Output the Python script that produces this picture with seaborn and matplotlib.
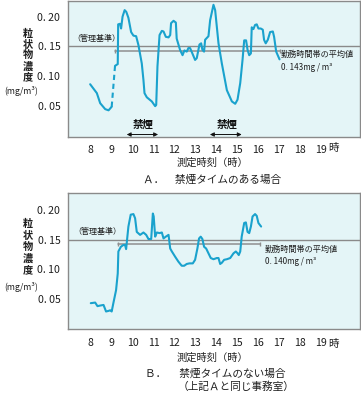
import matplotlib
matplotlib.use("Agg")
import matplotlib.pyplot as plt
import pandas as pd
import seaborn as sns

# ---------------- data ----------------
hour_ticks = [8, 9, 10, 11, 12, 13, 14, 15, 16, 17, 18, 19]
y_ticks = [0.05, 0.10, 0.15, 0.20]
y_tick_labels = ["0. 05", "0. 10", "0. 15", "0. 20"]
standard = 0.15

# Panel A: with no-smoking time
a_pre_x = [7.97, 8.29, 8.45, 8.69, 8.85, 9.00]
a_pre_y = [0.086, 0.071, 0.054, 0.044, 0.042, 0.048]
a_gap_x = [9.00, 9.16]
a_gap_y = [0.048, 0.117]
a_x = [9.16, 9.29, 9.31, 9.40, 9.45, 9.52, 9.62, 9.70, 9.80, 9.93, 10.04, 10.17,
       10.28, 10.44, 10.52, 10.57, 10.68, 10.92, 11.08, 11.13, 11.19, 11.29, 11.40,
       11.48, 11.59, 11.72, 11.80, 11.84, 11.96, 12.07, 12.11, 12.27, 12.39, 12.48,
       12.59, 12.67, 12.75, 12.86, 12.99, 13.07, 13.20, 13.28, 13.34, 13.42, 13.47,
       13.63, 13.71, 13.87, 13.95, 14.11, 14.27, 14.51, 14.75, 14.91, 15.02, 15.15,
       15.26, 15.34, 15.43, 15.50, 15.58, 15.66, 15.70, 15.78, 15.86, 15.94, 16.02,
       16.13, 16.23, 16.29, 16.37, 16.47, 16.58, 16.71, 16.77, 16.87, 17.03]
a_y = [0.117, 0.120, 0.187, 0.188, 0.180, 0.200, 0.211, 0.208, 0.198, 0.174, 0.168, 0.167,
       0.152, 0.121, 0.093, 0.071, 0.064, 0.057, 0.049, 0.051, 0.116, 0.169, 0.176,
       0.175, 0.166, 0.165, 0.169, 0.189, 0.193, 0.190, 0.163, 0.144, 0.135, 0.143,
       0.141, 0.147, 0.147, 0.138, 0.127, 0.130, 0.153, 0.155, 0.144, 0.141, 0.161,
       0.167, 0.194, 0.220, 0.211, 0.155, 0.121, 0.076, 0.057, 0.053, 0.060, 0.088,
       0.127, 0.160, 0.160, 0.144, 0.135, 0.138, 0.182, 0.179, 0.186, 0.187, 0.180,
       0.180, 0.178, 0.161, 0.155, 0.161, 0.174, 0.175, 0.166, 0.141, 0.128]
a_avg = 0.142
a_avg_span = [9.16, 17.05]
a_avg_label = "0. 143mg / m³"
nosmoke_spans = [[9.72, 11.22], [13.70, 15.22]]

# Panel B: without no-smoking time
b_x = [8.00, 8.21, 8.32, 8.45, 8.61, 8.73, 8.85, 8.93, 9.00, 9.08, 9.21, 9.29, 9.32,
       9.44, 9.56, 9.64, 9.69, 9.80, 9.91, 10.04, 10.12, 10.20, 10.36, 10.52, 10.65,
       10.76, 10.89, 10.97, 11.01, 11.08, 11.16, 11.29, 11.40, 11.48, 11.59, 11.72,
       11.80, 11.88, 12.04, 12.19, 12.35, 12.47, 12.59, 12.72, 12.88, 12.99, 13.10,
       13.18, 13.26, 13.34, 13.42, 13.52, 13.63, 13.74, 13.87, 14.03, 14.11, 14.19,
       14.27, 14.38, 14.51, 14.67, 14.83, 14.94, 15.02, 15.08, 15.15, 15.22, 15.34,
       15.42, 15.50, 15.58, 15.66, 15.74, 15.86, 15.94, 16.02, 16.15]
b_y = [0.043, 0.044, 0.038, 0.039, 0.040, 0.029, 0.030, 0.031, 0.029, 0.043, 0.065, 0.093, 0.130,
       0.138, 0.141, 0.141, 0.134, 0.172, 0.192, 0.193, 0.186, 0.163, 0.158, 0.162, 0.158,
       0.151, 0.151, 0.194, 0.189, 0.155, 0.162, 0.161, 0.162, 0.152, 0.155, 0.158,
       0.135, 0.130, 0.121, 0.113, 0.106, 0.106, 0.109, 0.110, 0.110, 0.116, 0.135,
       0.152, 0.155, 0.151, 0.138, 0.135, 0.127, 0.119, 0.117, 0.119, 0.119, 0.109,
       0.111, 0.116, 0.117, 0.119, 0.127, 0.130, 0.127, 0.124, 0.130, 0.155, 0.178,
       0.179, 0.163, 0.161, 0.172, 0.189, 0.193, 0.190, 0.178, 0.172]
b_avg = 0.142
b_avg_span = [9.28, 16.10]
b_avg_label = "0. 140mg / m³"

# ---------------- style ----------------
sns.set_style("white")
plt.rcParams["font.family"] = ["Noto Sans CJK JP", "DejaVu Sans"]

W, H = 361, 394
fig = plt.figure(figsize=(W / 100, H / 100), dpi=100)
fig.patch.set_facecolor("white")

BG = "#e4f5f7"
LINE = "#1aa2cd"
GRAY = "#8a8a8a"
AVG = "#8f8f8f"
TXT = "#1e1e1e"


def fx(px):
    return px / W


def fy(py):
    return 1 - py / H


def make_axes(top, bottom, ylim):
    ax = fig.add_axes([fx(68), fy(bottom), fx(360) - fx(68), fy(top) - fy(bottom)])
    ax.set_facecolor(BG)
    ax.set_xlim(6.91, 20.88)
    ax.set_ylim(*ylim)
    ax.set_xticks(hour_ticks)
    ax.set_xticklabels([str(h) for h in hour_ticks])
    ax.set_yticks(y_ticks)
    ax.set_yticklabels(y_tick_labels)
    ax.tick_params(axis="both", labelsize=7.6, colors=TXT, length=3, width=0.8,
                   direction="out", pad=2.5)
    ax.tick_params(axis="x", pad=3.5, length=2.5)
    for s in ax.spines.values():
        s.set_color(GRAY)
        s.set_linewidth(1.0)
    ax.set_xlabel("")
    ax.set_ylabel("")
    return ax


# ---------- Panel A ----------
axA = make_axes(1, 137, (-0.003, 0.2264))
axA.axhline(standard, color=GRAY, lw=1.0, zorder=1)
axA.plot(a_avg_span, [a_avg, a_avg], color=AVG, lw=1.1, zorder=1)
axA.plot(a_avg_span, [a_avg, a_avg], ls="none", marker="|", ms=3, color=AVG, zorder=1)
sns.lineplot(data=pd.DataFrame({"x": a_pre_x, "y": a_pre_y}), x="x", y="y",
             ax=axA, color=LINE, lw=1.5, sort=False, estimator=None)
sns.lineplot(data=pd.DataFrame({"x": a_gap_x, "y": a_gap_y}), x="x", y="y",
             ax=axA, color=LINE, lw=1.5, sort=False, estimator=None, dashes=False)
axA.lines[-1].set_linestyle((0, (2.5, 1.8)))
sns.lineplot(data=pd.DataFrame({"x": a_x, "y": a_y}), x="x", y="y",
             ax=axA, color=LINE, lw=1.5, sort=False, estimator=None)
axA.set_xlabel("")
axA.set_ylabel("")
for x0, x1 in nosmoke_spans:
    axA.annotate("", xy=(x0, 0.0012), xytext=(x1, 0.0012),
                 arrowprops=dict(arrowstyle="<|-|>", color="#111111", lw=0.7,
                                 mutation_scale=6, shrinkA=0, shrinkB=0))
    axA.text((x0 + x1) / 2 + 0.05, 0.0175, "禁煙", fontsize=7.5, ha="center",
             va="center", color="#111111", fontweight="bold")

fig.text(fx(72), fy(38), "（管理基準）", fontsize=5.8, ha="left", va="center", color=TXT)
fig.text(fx(281), fy(54), "勤務時間帯の平均値", fontsize=5.9, ha="left", va="center", color=TXT)
fig.text(fx(281), fy(67), a_avg_label, fontsize=5.8, ha="left", va="center", color=TXT)
fig.text(fx(333), fy(148), "時", fontsize=7.6, ha="center", va="center", color=TXT)
fig.text(fx(28), fy(55.5), "粒\n状\n物\n濃\n度", fontsize=7.3, ha="center", va="center",
         linespacing=1.1, color=TXT, fontweight="bold")
fig.text(fx(21), fy(91), "(mg/m³)", fontsize=6.3, ha="center", va="center", color=TXT)
fig.text(fx(212), fy(163), "測定時刻（時）", fontsize=7.4, ha="center", va="center", color=TXT)
fig.text(fx(212), fy(180), "Ａ．　禁煙タイムのある場合", fontsize=7.7, ha="center",
         va="center", color=TXT)

# ---------- Panel B ----------
axB = make_axes(193.3, 329.3, (-0.001, 0.228))
axB.axhline(standard, color=GRAY, lw=1.0, zorder=1)
axB.plot(b_avg_span, [b_avg, b_avg], color=AVG, lw=1.1, zorder=1)
axB.plot(b_avg_span, [b_avg, b_avg], ls="none", marker="|", ms=3, color=AVG, zorder=1)
sns.lineplot(data=pd.DataFrame({"x": b_x, "y": b_y}), x="x", y="y",
             ax=axB, color=LINE, lw=1.5, sort=False, estimator=None)
axB.set_xlabel("")
axB.set_ylabel("")

fig.text(fx(73), fy(231), "（管理基準）", fontsize=5.8, ha="left", va="center", color=TXT)
fig.text(fx(265), fy(249), "勤務時間帯の平均値", fontsize=5.9, ha="left", va="center", color=TXT)
fig.text(fx(265), fy(261), b_avg_label, fontsize=5.8, ha="left", va="center", color=TXT)
fig.text(fx(333), fy(344), "時", fontsize=7.6, ha="center", va="center", color=TXT)
fig.text(fx(28), fy(247.5), "粒\n状\n物\n濃\n度", fontsize=7.3, ha="center", va="center",
         linespacing=1.18, color=TXT, fontweight="bold")
fig.text(fx(21), fy(287), "(mg/m³)", fontsize=6.3, ha="center", va="center", color=TXT)
fig.text(fx(212), fy(358), "測定時刻（時）", fontsize=7.4, ha="center", va="center", color=TXT)
fig.text(fx(215), fy(374), "Ｂ．　 禁煙タイムのない場合", fontsize=7.7, ha="center",
         va="center", color=TXT)
fig.text(fx(236), fy(387), "（上記Ａと同じ事務室）", fontsize=7.7, ha="center",
         va="center", color=TXT)

fig.savefig("out.png", dpi=100, facecolor="white")
